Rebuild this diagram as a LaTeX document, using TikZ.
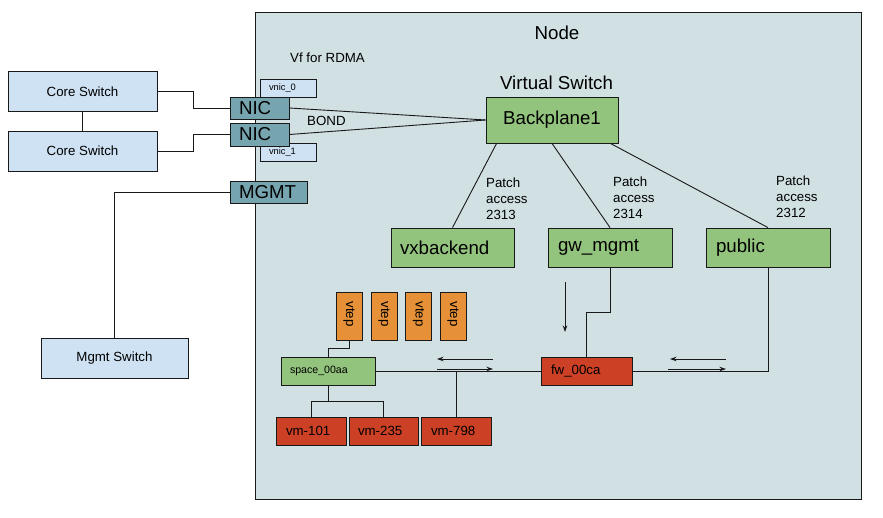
\documentclass[tikz,border=0pt]{standalone}
\usepackage{fontspec}
\setmainfont{Liberation Sans}
\usetikzlibrary{calc,arrows.meta}
\definecolor{lblue}{HTML}{CFE2F3}
\definecolor{nodebg}{HTML}{D0E0E3}
\definecolor{vgreen}{HTML}{93C47D}
\definecolor{teal2}{HTML}{76A5AF}
\definecolor{orng}{HTML}{E69138}
\definecolor{vred}{HTML}{CC4125}
\newcommand\szbig{\fontsize{18.7}{22}\selectfont}
\newcommand\szten{\fontsize{13.3}{15.8}\selectfont}
\newcommand\szeight{\fontsize{10.6}{12}\selectfont}
\newcommand\szsev{\fontsize{9.3}{11}\selectfont}
\tikzset{
  bx/.style={draw=black!90, line width=0.8pt, inner sep=0pt},
  lbox/.style={bx, align=left, inner xsep=#1},
  conn/.style={line width=0.9pt, draw=black!90},
  arr/.style={conn, -{Stealth[length=6.5pt,width=4.5pt]}},
  lab/.style={inner sep=0pt, align=left}
}
\begin{document}
\begin{tikzpicture}[x=1pt,y=-1pt]
\useasboundingbox (0,0) rectangle (883,518);
% node background
\node[bx, fill=nodebg, minimum width=606, minimum height=487] (nodebox) at (558,255.5) {};
\node[lab, font=\szbig] (title) at (557,33) {Node};
% left switches
\node[bx, fill=lblue, minimum width=149, minimum height=40, font=\szten] (cs1) at (82.5,91.5) {Core Switch};
\node[bx, fill=lblue, minimum width=149, minimum height=40, font=\szten] (cs2) at (82.5,151) {Core Switch};
\node[bx, fill=lblue, minimum width=147, minimum height=40, font=\szten] (msw) at (114.5,358) {Mgmt Switch};
% vnics
\node[lbox=9, fill=lblue, minimum height=18, text width=38, font=\szsev] (vnic0) at (288,88) {vnic\_0};
\node[lbox=9, fill=lblue, minimum height=18, text width=38, font=\szsev] (vnic1) at (288,152) {vnic\_1};
% NICs
\node[lbox=9, fill=teal2, minimum height=22, text width=41, font=\szbig] (nic1) at (259.5,108) {NIC};
\node[lbox=9, fill=teal2, minimum height=23, text width=41, font=\szbig] (nic2) at (259.5,134.5) {NIC};
\node[lbox=9, fill=teal2, minimum height=22, text width=59, font=\szbig] (mgmt) at (268.5,192) {MGMT};
% labels
\node[lab, anchor=west, font=\szten] (vf) at (290,58) {Vf for RDMA};
\node[lab, anchor=west, font=\szten] (bond) at (307,121) {BOND};
\node[lab, font=\szbig] (vsw) at (556.5,83) {Virtual Switch};
% backplane and networks
\node[bx, fill=vgreen, minimum width=132, minimum height=46, font=\szbig] (bp) at (552,120) {Backplane1};
\node[lbox=9, fill=vgreen, minimum height=39, text width=105, font=\szbig] (vx) at (452.5,247.5) {vxbackend};
\node[lbox=10, fill=vgreen, minimum height=39, text width=104, font=\szbig] (gw) at (610,247.5) {gw\_mgmt};
\node[lbox=10, fill=vgreen, minimum height=39, text width=104, font=\szbig] (pub) at (768,247.5) {public};
\node[lab, anchor=west, font=\szten] (p1) at (486,199) {Patch\\access\\2313};
\node[lab, anchor=west, font=\szten] (p2) at (613,198) {Patch\\access\\2314};
\node[lab, anchor=west, font=\szten] (p3) at (776,197) {Patch\\access\\2312};
% vteps
\foreach \i/\xx in {1/349,2/384,3/418.5,4/453}{
  \node[bx, fill=orng, minimum width=26, minimum height=48] (vt\i) at (\xx,316) {};
  \node[lab, rotate=-90, font=\szten] (vtl\i) at ($(vt\i)+(0,-2)$) {vtep};
}
% space and vms
\node[lbox=9, fill=vgreen, minimum height=28, text width=76, font=\szeight] (space) at (328,371) {space\_00aa};
\node[lbox=10, fill=vred, minimum height=28, text width=50, font=\szten] (vm1) at (311,431) {vm-101};
\node[lbox=9, fill=vred, minimum height=28, text width=51, font=\szten] (vm2) at (383.5,431) {vm-235};
\node[lbox=10, fill=vred, minimum height=28, text width=50, font=\szten] (vm3) at (456,431) {vm-798};
\node[lbox=10, fill=vred, minimum height=28, text width=71, font=\szten] (fw) at (586.5,371) {fw\_00ca};
% connectors
\draw[conn] (cs1.east) -- ++(36,0) |- (nic1.west);
\draw[conn] (cs2.east) -- ++(36,0) |- (nic2.west);
\draw[conn] (cs1.south) -- (cs2.north);
\draw[conn] (mgmt.west) -| (msw.north);
\draw[conn] (nic1.east) -- (bp.west);
\draw[conn] (nic2.east) -- (bp.west);
\draw[conn] ($(bp.south west)+(11,0)$) -- (vx.north);
\draw[conn] (bp.south) -- (gw.north);
\draw[conn] ($(bp.south east)+(-8,0)$) -- (pub.north);
\draw[conn] (vt1.south) -- ++(0,8) -| (space.north);
\draw[conn] (space.south) -- ++(0,16) -| (vm1.north);
\draw[conn] (space.south) -- ++(0,16) -| (vm2.north);
\draw[conn] (space.east) -- (fw.west);
\draw[conn] (vm3.north) -- (vm3.north |- space.east);
\draw[conn] (gw.south) -- ++(0,45) -| (fw.north);
\draw[conn] (fw.east) -| (pub.south);
% free arrows
\coordinate (a1s) at (493,359); \coordinate (a1e) at (437,359);
\coordinate (a2s) at (437,369); \coordinate (a2e) at (493,369);
\coordinate (a3s) at (726,359); \coordinate (a3e) at (670,359);
\coordinate (a4s) at (668,369); \coordinate (a4e) at (726,369);
\coordinate (a5s) at (565,282); \coordinate (a5e) at (565,332);
\draw[arr] (a1s) -- (a1e);
\draw[arr] (a2s) -- (a2e);
\draw[arr] (a3s) -- (a3e);
\draw[arr] (a4s) -- (a4e);
\draw[arr] (a5s) -- (a5e);
\end{tikzpicture}
\end{document}
